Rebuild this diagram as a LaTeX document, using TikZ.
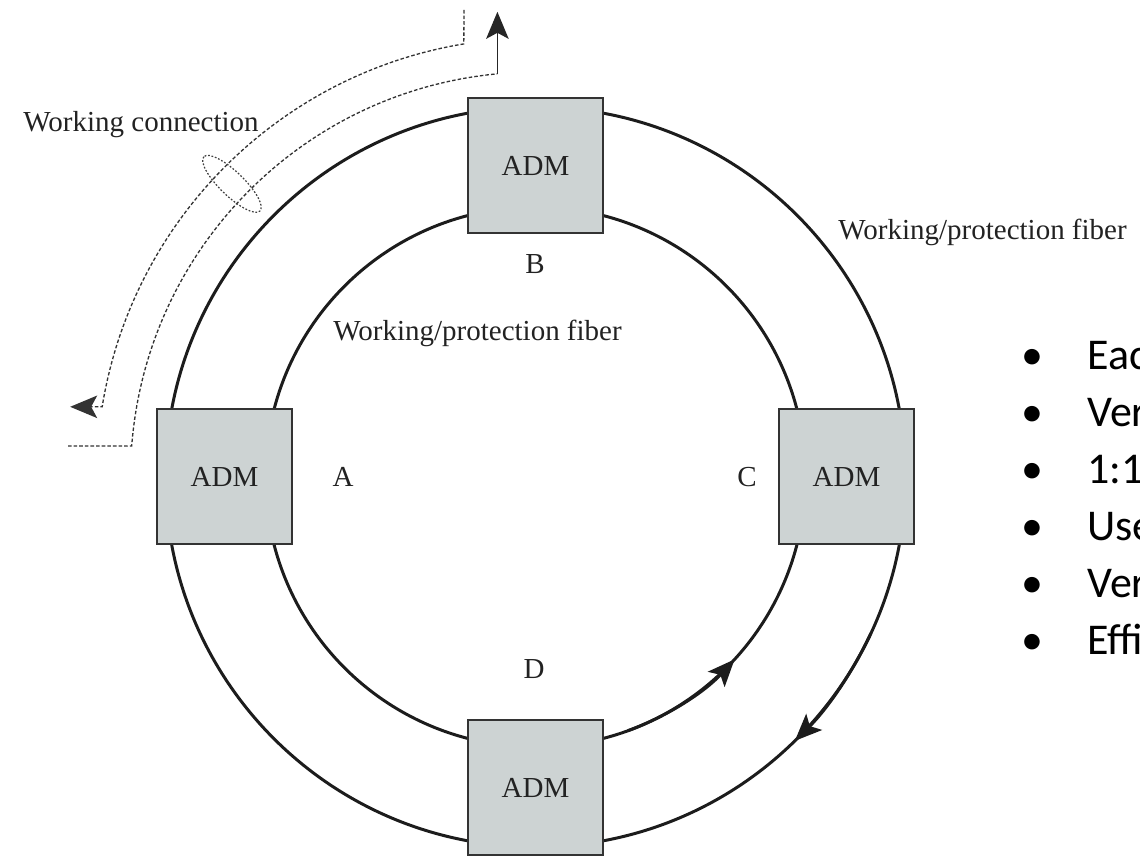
\documentclass[tikz,border=0pt]{standalone}
\usepackage{fontspec}
\setmainfont{Liberation Serif}
\newfontfamily\bulletfont{Carlito}
\usetikzlibrary{arrows.meta,positioning}

\definecolor{admgray}{HTML}{CDD3D3}
\definecolor{ringblack}{HTML}{1C1C1C}
\definecolor{textdark}{HTML}{222222}

\begin{document}
\begin{tikzpicture}[
    adm/.style={draw=black!80, line width=0.04cm, fill=admgray, minimum width=2.7cm, minimum height=2.7cm, inner sep=0pt, font=\fontsize{16.5}{20}\selectfont, text=textdark},
    lbl/.style={font=\fontsize{16.5}{20}\selectfont, text=textdark, inner sep=0pt},
    ring/.style={draw=ringblack, line width=1.7pt},
    conn/.style={draw=black!80, line width=0.75pt, dash pattern=on 2pt off 1.2pt},
    oval/.style={draw=black!75, line width=0.7pt, dash pattern=on 1pt off 1pt},
    arr/.style={-{Stealth[length=0.54cm, width=0.45cm, inset=0.12cm]}},
    bul/.style={font=\bulletfont\fontsize{25}{30}\selectfont, inner sep=0pt}
]
\useasboundingbox (0,0) rectangle (22.8,17.12);
\clip (0,0) rectangle (22.8,17.12);

% ring centre
\coordinate (ctr) at (10.71,7.58);

% fibers
\draw[ring] (ctr) circle[radius=7.4];
\draw[ring] (ctr) circle[radius=5.4];
\draw[ring, arr] ([shift={(-25:7.4)}]ctr) arc[start angle=-25, end angle=-45.5, radius=7.4];
\draw[ring, arr] ([shift={(-70:5.4)}]ctr) arc[start angle=-70, end angle=-42.5, radius=5.4];

% add/drop multiplexers
\node[adm] (admA) at ([shift={(-6.22,0)}]ctr) {ADM};
\node[adm] (admB) at ([shift={(0,6.22)}]ctr) {ADM};
\node[adm] (admC) at ([shift={(6.22,0)}]ctr) {ADM};
\node[adm] (admD) at ([shift={(0,-6.22)}]ctr) {ADM};

\node[lbl, anchor=base] (labA) at (6.86,7.38) {A};
\node[lbl, anchor=base] (labB) at (10.70,11.64) {B};
\node[lbl, anchor=base] (labC) at (14.94,7.38) {C};
\node[lbl, anchor=base] (labD) at (10.68,3.54) {D};

\node[lbl, anchor=base west] (outerfib) at (16.76,12.32) {Working/protection fiber};
\node[lbl, anchor=base west] (innerfib) at (6.66,10.30) {Working/protection fiber};

% working connection
\coordinate (wtop) at (9.28,16.92);
\draw[conn, arr] (wtop) -- ([shift={(99.4:8.78)}]ctr) arc[start angle=99.4, end angle=170.8, radius=8.78] -- ++(-0.64,0);
\coordinate (wleft) at (1.36,8.20);
\draw[conn] (wleft) -- ([shift={(175.6:8.1)}]ctr) arc[start angle=175.6, end angle=95.4, radius=8.1] coordinate (wup);
\draw[line width=0.9pt, black!85, arr] (wup) -- ++(0,1.24);
\coordinate (ovc) at ([shift={(136:8.44)}]ctr);
\draw[oval, rotate around={136:(ovc)}] (ovc) ellipse[x radius=0.78, y radius=0.24];
\node[lbl, anchor=base east] (wconn) at (5.18,14.48) {Working connection};

% bullet list
\foreach \txt/\yy [count=\i] in {Eac/9.72, Ver/8.58, 1:1/7.44, Use/6.30, Ver/5.16, Effi/4.02} {
  \node[bul, anchor=base] (dot\i) at (20.64,\yy) {•};
  \node[bul, anchor=base west] (item\i) at (21.74,\yy) {\txt};
}
\end{tikzpicture}
\end{document}
